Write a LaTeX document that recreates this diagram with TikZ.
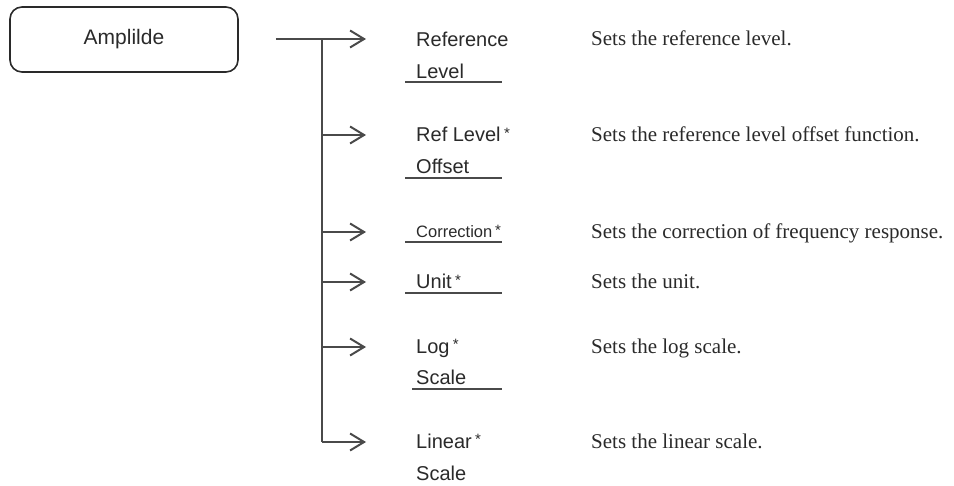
\documentclass[tikz,border=0pt]{standalone}
\usepackage{fontspec}
\setmainfont{Liberation Serif}
\setsansfont{Liberation Sans}
\usetikzlibrary{arrows.meta,positioning,calc}
\definecolor{linie}{HTML}{4A4A4A}
\definecolor{schrift}{HTML}{2A2A2A}
\tikzset{
  pfeil/.style={-{Straight Barb[length=14pt,width=17pt,line width=2pt]},linie,line width=2pt},
  stamm/.style={linie,line width=2pt},
  strich/.style={linie,line width=1.8pt},
  kasten/.style={draw=schrift,line width=1.6pt,rounded corners=12pt,minimum width=228pt,minimum height=65pt,inner sep=0pt,schrift,font=\sffamily\fontsize{21}{24}\selectfont},
  menue/.style={anchor=base west,align=left,inner sep=0pt,schrift,font=\sffamily\fontsize{20}{32}\selectfont},
  erkl/.style={anchor=base west,inner sep=0pt,schrift,font=\fontsize{21}{25}\selectfont},
}
\newcommand{\stern}{\,\raisebox{0.3ex}{\fontsize{15}{15}\selectfont *}}

\begin{document}
\begin{tikzpicture}[x=1pt,y=-1pt]
  \useasboundingbox (0,0) rectangle (954,486);
  \node[kasten] (amp) at (124,39.5) {Amplilde};
  \coordinate (anf) at ($(amp.east)+(37,-0.5)$);
  \coordinate (ast) at (322,39);
  % Pfeilspitzen
  \coordinate (s1) at (366,39);
  \coordinate (s2) at (366,135);
  \coordinate (s3) at (366,232);
  \coordinate (s4) at (366,282);
  \coordinate (s5) at (366,347);
  \coordinate (s6) at (366,442);
  % Menuepunkte (base = letzte Zeile)
  \node[menue] (m1) at (416,79) {Reference\\Level};
  \node[menue] (m2) at (416,174) {Ref Level\stern\\Offset};
  \node[menue,font=\sffamily\fontsize{16.5}{20}\selectfont] (m3) at (416,238) {Correction\stern};
  \node[menue] (m4) at (416,289) {Unit\stern};
  \node[menue] (m5) at (416,385) {Log\stern\\Scale};
  \node[menue] (m6) at (416,480) {Linear\stern\\Scale};
  % Erklaerungen
  \node[erkl] (b1) at (591,46) {Sets the reference level.};
  \node[erkl] (b2) at (591,142) {Sets the reference level offset function.};
  \node[erkl] (b3) at (591,239) {Sets the correction of frequency response.};
  \node[erkl] (b4) at (591,289) {Sets the unit.};
  \node[erkl] (b5) at (591,354) {Sets the log scale.};
  \node[erkl] (b6) at (591,449) {Sets the linear scale.};
  % Verbindungen
  \draw[pfeil] (anf) -- (s1);
  \draw[stamm] (ast) -- (ast |- s6);
  \draw[pfeil] (ast |- s2) -- (s2);
  \draw[pfeil] (ast |- s3) -- (s3);
  \draw[pfeil] (ast |- s4) -- (s4);
  \draw[pfeil] (ast |- s5) -- (s5);
  \draw[pfeil] (ast |- s6) -- (s6);
  % Unterstriche
  \draw[strich] (405,82) -- (502,82);
  \draw[strich] (405,178) -- (502,178);
  \draw[strich] (405,242) -- (502,242);
  \draw[strich] (405,293) -- (502,293);
  \draw[strich] (412,389) -- (502,389);
\end{tikzpicture}
\end{document}
